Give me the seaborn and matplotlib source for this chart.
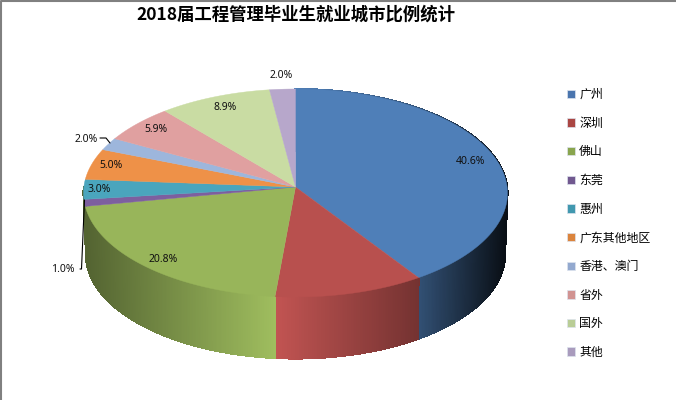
import numpy as np
import matplotlib
matplotlib.use('Agg')
import matplotlib.pyplot as plt
from matplotlib.collections import PolyCollection
from matplotlib.patches import Patch
import seaborn as sns

#Data:
cities = ['广州', '深圳', '佛山', '东莞', '惠州', '广东其他地区', '香港、澳门', '省外', '国外', '其他']
shares = [40.6, 10.8, 20.8, 1.0, 3.0, 5.0, 2.0, 5.9, 8.9, 2.0]
title = '2018届工程管理毕业生就业城市比例统计'

#Colours: top of the pie, legend squares
top_colors = ['#4f7fb8', '#b8504e', '#98b55a', '#7d5f9f', '#4aa5bd',
              '#ee9148', '#9db6dc', '#e0a0a0', '#c9dca3', '#b7a7cb']
legend_colors = ['#4a75ae', '#aa4643', '#89a54e', '#71588f', '#4198af',
                 '#db843d', '#93a9cf', '#d19392', '#b9cd96', '#a99bbd']

#Label centres in pixels, red slice has no label in the original
label_pos = [(471, 161), None, (163, 259), (63, 270), (99, 189),
             (111, 166), (86, 139), (156, 130), (225, 107), (281, 76)]

#Pie geometry in pixels. The apex sits above the ellipse centre (perspective)
cx, cy = 295.5, 187
ell_cy = 193
a_top, a_bot = 212, 209.5
b_ell = 104
b_back, b_front = 98, 110
depth = 61.5

sns.set_theme(style='white')
plt.rcParams['font.family'] = ['Noto Sans CJK SC', 'DejaVu Sans']

fig = plt.figure(figsize=(6.76, 4), dpi=100)
ax = fig.add_axes([0, 0, 1, 1])
ax.set_xlim(0, 676)
ax.set_ylim(400, 0)
ax.axis('off')


#Point on the rim, phi clockwise from the top: ray from apex meets the ellipse
def rim(phi, a=a_top, dy=0.0):
    #small correction for the 3D projection of the original
    phi = phi + np.radians(np.interp(np.degrees(phi), [0, 146, 185, 260, 321, 360],
                                     [0, -1.3, 0.5, 0, 0.8, 0]))
    c = np.cos(phi)
    b = np.where(c > 0, b_back, b_front)
    ux = np.sin(phi)
    uy = -b*c/a_top
    off = cy - ell_cy
    A = (ux/a)**2 + (uy/b_ell)**2
    B = 2*off*uy/b_ell**2
    C = off**2/b_ell**2 - 1
    t = (-B + np.sqrt(B**2 - 4*A*C))/(2*A)
    return cx + t*ux, cy + t*uy + dy


#Wall brightness as a function of x
def shade(x):
    return np.interp(x, [84, 275, 418, 505], [0.55, 1.05, 0.63, 0.12])


edges = 2*np.pi*np.cumsum([0] + shares)/np.sum(shares)

#Side wall first, as thin quads. Past the green slice the wall stays green
quads, quad_colors = [], []
for i in range(len(shares)):
    start, stop = edges[i], min(edges[i+1], 1.5*np.pi)
    if stop <= start or start >= 1.5*np.pi:
        continue
    steps = np.linspace(start, stop, max(int((stop-start)*120), 2))
    base = np.array(matplotlib.colors.to_rgb(top_colors[min(i, 2)]))
    for p0, p1 in zip(steps[:-1], steps[1:]):
        x0, y0 = rim(p0)
        x1, y1 = rim(p1)
        x2, y2 = rim(p1, a_bot, depth)
        x3, y3 = rim(p0, a_bot, depth)
        quads.append([(x0, y0), (x1, y1), (x2, y2), (x3, y3)])
        quad_colors.append(np.clip(base*shade((x0+x1)/2), 0, 1))
ax.add_collection(PolyCollection(quads, facecolors=quad_colors, edgecolors=quad_colors,
                                 linewidths=0.8, antialiaseds=False))

#Top face
for i in range(len(shares)):
    phi = np.linspace(edges[i], edges[i+1], 120)
    x, y = rim(phi)
    ax.fill(np.r_[cx, x], np.r_[cy, y], color=top_colors[i], lw=0.3)

#Percent labels
for i, pos in enumerate(label_pos):
    if pos is not None:
        ax.text(pos[0], pos[1], f'{shares[i]:.1f}%', ha='center', va='center', fontsize=7.5,
                color='#111111', family=['Noto Sans', 'DejaVu Sans'])

#Leader lines
ax.plot([80, 81.5, 84.5], [269, 269, 200], color='black', lw=0.8)
ax.plot([100, 106, 110], [138, 138, 143], color='black', lw=0.8)

#Title
ax.text(296, 15, title, ha='center', va='center', fontsize=12.5, fontweight='bold', color='black')

#Legend
handles = [Patch(facecolor=c, edgecolor='#dde3ee', lw=0.5) for c in legend_colors]
ax.legend(handles, cities, loc='upper left', bbox_to_anchor=(567/676, 1-88/400), frameon=False,
          fontsize=8.6, labelspacing=1.31, handlelength=0.7, handleheight=0.7, handletextpad=0.32,
          borderaxespad=0, borderpad=0, labelcolor='black')

#Window border on the left and top
ax.plot([0.5, 0.5, 676], [400, 0.5, 0.5], color='#808080', lw=1.5, clip_on=False)

fig.savefig('out.png', dpi=100)
